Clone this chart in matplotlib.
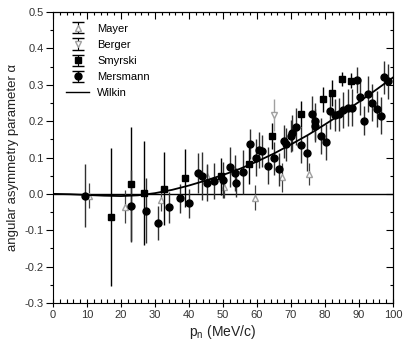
import numpy as np
import matplotlib
matplotlib.use('Agg')
import matplotlib.pyplot as plt
from matplotlib.ticker import MultipleLocator

plt.rcParams['font.family'] = ['Liberation Sans', 'DejaVu Sans']

# Mersmann (circles)
mer_p = [9.4, 22.8, 27.4, 31.0, 34.1, 37.4, 40.1, 42.7, 43.9, 45.2, 47.5, 49.9, 52.0, 53.5, 53.8,
         56.0, 57.8, 59.8, 60.5, 61.4, 63.2, 65.0, 66.5, 67.9, 68.4, 69.9, 70.2, 71.5, 73.0, 74.6,
         76.1, 77.0, 77.2, 78.8, 80.3, 81.4, 82.9, 84.2, 85.2, 86.7, 87.8, 89.3, 90.3, 91.5, 92.7,
         93.9, 95.2, 96.5, 97.4, 98.4]
mer_a = [-0.005, -0.033, -0.046, -0.080, -0.037, -0.012, -0.026, 0.058, 0.049, 0.031, 0.036, 0.038,
         0.073, 0.057, 0.031, 0.061, 0.137, 0.100, 0.121, 0.118, 0.078, 0.098, 0.068, 0.144, 0.136,
         0.159, 0.168, 0.185, 0.135, 0.112, 0.219, 0.199, 0.187, 0.159, 0.142, 0.227, 0.217, 0.219,
         0.231, 0.237, 0.237, 0.313, 0.267, 0.201, 0.274, 0.251, 0.233, 0.215, 0.320, 0.309]
mer_e = [0.087, 0.10, 0.09, 0.047, 0.043, 0.04, 0.04, 0.055, 0.065, 0.05, 0.05, 0.05, 0.055, 0.05,
         0.04, 0.06, 0.04, 0.05, 0.05, 0.045, 0.05, 0.045, 0.045, 0.045, 0.045, 0.045, 0.05, 0.05,
         0.05, 0.05, 0.05, 0.05, 0.045, 0.05, 0.05, 0.05, 0.045, 0.045, 0.05, 0.05, 0.05, 0.035,
         0.05, 0.04, 0.05, 0.05, 0.05, 0.05, 0.045, 0.048]

# Smyrski (squares)
smy_p = [17.1, 22.8, 26.9, 32.6, 38.9, 49.3, 57.5, 64.3, 72.8, 79.3, 82.2, 85.1, 87.6]
smy_a = [-0.063, 0.027, 0.002, 0.014, 0.043, 0.048, 0.082, 0.159, 0.220, 0.260, 0.277, 0.316, 0.311]
smy_e = [0.19, 0.157, 0.142, 0.10, 0.08, 0.05, 0.055, 0.035, 0.035, 0.035, 0.035, 0.02, 0.02]

# Mayer (grey up triangles)
may_p = [10.6, 21.2, 31.8, 45.2, 50.4, 59.4, 67.4, 75.2]
may_a = [-0.005, -0.035, -0.017, 0.050, 0.020, -0.010, 0.046, 0.055]
may_e = [0.035, 0.045, 0.03, 0.03, 0.03, 0.035, 0.04, 0.03]

# Berger (grey down triangles)
ber_p = [65.0]
ber_a = [0.217]
ber_e = [0.045]

# Wilkin curve
wil_p = [0, 5, 10, 15, 20, 25, 30, 35, 40, 45, 50, 55, 60, 65, 70, 75, 80, 85, 90, 95, 100]
wil_a = [0.0, -0.001, -0.003, -0.005, -0.006, -0.004, 0.002, 0.011, 0.023, 0.037, 0.052, 0.069,
         0.089, 0.111, 0.136, 0.162, 0.191, 0.221, 0.253, 0.286, 0.320]

fig = plt.figure(figsize=(4.03, 3.47), dpi=100)
ax = fig.add_axes([0.1315, 0.1268, 0.8437, 0.8386])

ax.axhline(0, color='k', lw=1.0, zorder=1)
ax.plot(wil_p, wil_a, color='k', lw=1.3, zorder=4)

grey = '#a0a0a0'
ax.errorbar(may_p, may_a, yerr=may_e, fmt='^', ms=4.5, mfc='white', mec=grey, ecolor='#404040',
            elinewidth=0.9, capsize=0, zorder=2)
ax.errorbar(ber_p, ber_a, yerr=ber_e, fmt='v', ms=4.5, mfc='white', mec=grey, ecolor=grey,
            elinewidth=1.0, capsize=0, zorder=2)
ax.errorbar(smy_p, smy_a, yerr=smy_e, fmt='s', ms=4.3, color='k', ecolor='k',
            elinewidth=1.0, capsize=0, zorder=3)
ax.errorbar(mer_p, mer_a, yerr=mer_e, fmt='o', ms=5, color='k', ecolor='#303030',
            elinewidth=1.0, capsize=0, zorder=3)

# legend proxies (caps only in legend)
h1 = ax.errorbar([np.nan], [np.nan], yerr=[0.1], fmt='^', ms=4.5, mfc='white', mec=grey,
                 ecolor='k', elinewidth=0.8, capsize=4)
h2 = ax.errorbar([np.nan], [np.nan], yerr=[0.1], fmt='v', ms=4.5, mfc='white', mec=grey,
                 ecolor='k', elinewidth=0.8, capsize=4)
h3 = ax.errorbar([np.nan], [np.nan], yerr=[0.1], fmt='s', ms=4.3, color='k',
                 elinewidth=0.8, capsize=4)
h4 = ax.errorbar([np.nan], [np.nan], yerr=[0.1], fmt='o', ms=5, color='k',
                 elinewidth=0.8, capsize=4)
h5, = ax.plot([], [], color='k', lw=1.0)
ax.legend([h1, h2, h3, h4, h5], ['Mayer', 'Berger', 'Smyrski', 'Mersmann', 'Wilkin'],
          loc='upper left', bbox_to_anchor=(0.012, 0.99), frameon=False, fontsize=8,
          handlelength=2.1, handletextpad=0.7, labelspacing=0.55, borderaxespad=0.4)

ax.set_xlim(0, 100)
ax.set_ylim(-0.3, 0.5)
ax.xaxis.set_major_locator(MultipleLocator(10))
ax.xaxis.set_minor_locator(MultipleLocator(2))
ax.yaxis.set_minor_locator(MultipleLocator(0.05))
ax.set_yticks(np.arange(-0.3, 0.51, 0.1))
ax.set_yticklabels(['-0.3', '-0.2', '-0.1', '0.0', '0.1', '0.2', '0.3', '0.4', '0.5'])
ax.tick_params(axis='x', which='major', direction='inout', length=6, width=0.8, labelsize=8, pad=2,
               labelcolor='#333333')
ax.tick_params(axis='x', which='minor', direction='in', length=3, width=0.8)
ax.tick_params(axis='y', which='major', direction='out', length=5, width=0.8, labelsize=8, pad=1.5,
               labelcolor='#333333')
ax.tick_params(axis='y', which='minor', direction='out', length=2.5, width=0.8)

top = ax.secondary_xaxis('top')
top.xaxis.set_major_locator(MultipleLocator(10))
top.xaxis.set_minor_locator(MultipleLocator(2))
top.tick_params(which='major', direction='in', length=5, width=0.8, labeltop=False)
top.tick_params(which='minor', direction='in', length=2.5, width=0.8)
right = ax.secondary_yaxis('right')
right.yaxis.set_major_locator(MultipleLocator(0.1))
right.yaxis.set_minor_locator(MultipleLocator(0.05))
right.tick_params(which='major', direction='in', length=5, width=0.8, labelright=False)
right.tick_params(which='minor', direction='in', length=2.5, width=0.8)

for s in ax.spines.values():
    s.set_linewidth(0.8)

ax.set_xlabel('p$_\\mathregular{n}$ (MeV/c)', fontsize=10, labelpad=2, color='#222222')
ax.set_ylabel('angular asymmetry parameter \u03b1', fontsize=9.5, labelpad=4, color='#222222')

fig.savefig('out.png', dpi=100)
